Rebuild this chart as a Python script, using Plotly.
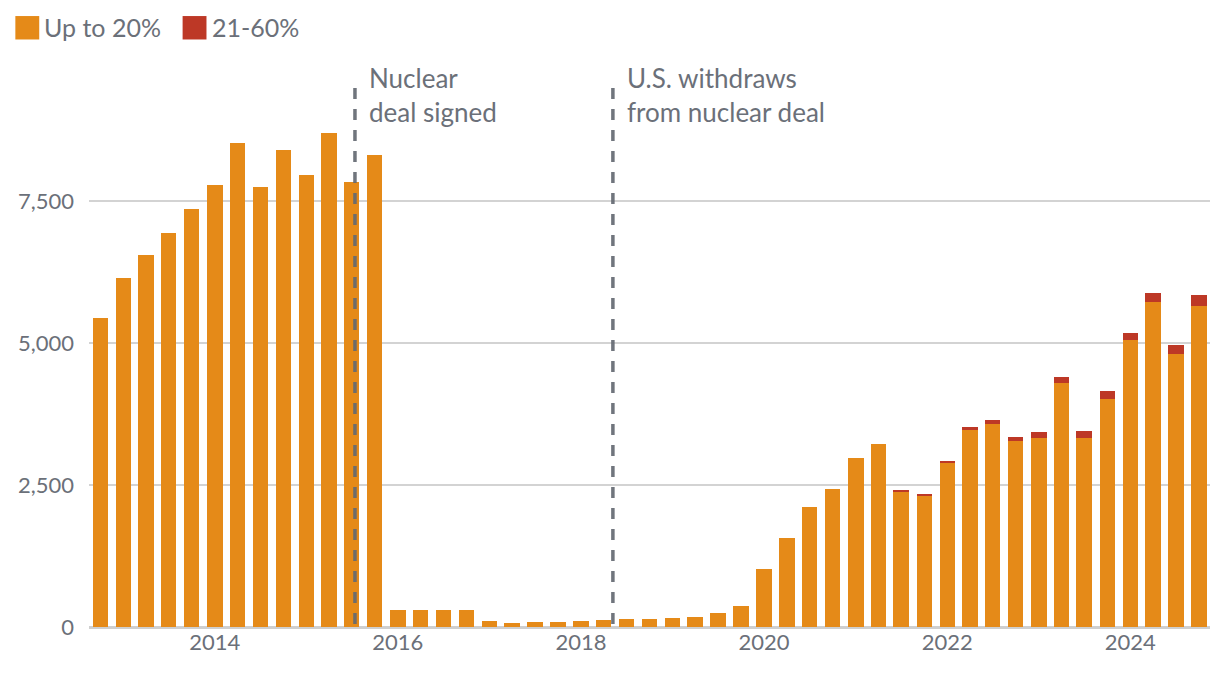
import plotly.graph_objects as go

# Quarterly IAEA estimates of Iran's enriched uranium stockpile (kg)
quarters = [
    "2012-10-01",
    "2013-01-01", "2013-04-01", "2013-07-01", "2013-10-01",
    "2014-01-01", "2014-04-01", "2014-07-01", "2014-10-01",
    "2015-01-01", "2015-04-01", "2015-07-01", "2015-10-01",
    "2016-01-01", "2016-04-01", "2016-07-01", "2016-10-01",
    "2017-01-01", "2017-04-01", "2017-07-01", "2017-10-01",
    "2018-01-01", "2018-04-01", "2018-07-01", "2018-10-01",
    "2019-01-01", "2019-04-01", "2019-07-01", "2019-10-01",
    "2020-01-01", "2020-04-01", "2020-07-01", "2020-10-01",
    "2021-01-01", "2021-04-01", "2021-07-01", "2021-10-01",
    "2022-01-01", "2022-04-01", "2022-07-01", "2022-10-01",
    "2023-01-01", "2023-04-01", "2023-07-01", "2023-10-01",
    "2024-01-01", "2024-04-01", "2024-07-01", "2024-10-01",
]
up_to_20 = [
    5443,
    6147, 6550, 6953, 7362,
    7783, 8526, 7764, 8400,
    7959, 8714, 7846, 8312,
    293, 293, 293, 293,
    100, 65, 82, 82,
    100, 117, 135, 135,
    153, 170, 241, 364,
    1015, 1561, 2107, 2441,
    2970, 3234, 2389, 2318,
    2882, 3475, 3580, 3280,
    3333, 4304, 3331, 4021,
    5065, 5737, 4817, 5649,
]
pct_21_60 = [
    0,
    0, 0, 0, 0,
    0, 0, 0, 0,
    0, 0, 0, 0,
    0, 0, 0, 0,
    0, 0, 0, 0,
    0, 0, 0, 0,
    0, 0, 0, 0,
    0, 0, 0, 0,
    0, 0, 23, 24,
    41, 55, 72, 70,
    105, 106, 124, 142,
    124, 142, 159, 194,
]
series_names = ["Up to 20%", "21-60%"]
series_colors = ["#E58A18", "#BD3826"]

event_dates = ["2015-07-14", "2018-05-08"]
event_labels = ["Nuclear<br>deal signed", "U.S. withdraws<br>from nuclear deal"]

y_ticks = [0, 2500, 5000, 7500]
x_tick_dates = ["2014-01-01", "2016-01-01", "2018-01-01", "2020-01-01", "2022-01-01", "2024-01-01"]
x_tick_text = ["2014", "2016", "2018", "2020", "2022", "2024"]

TEXT = "#6B7079"
FONT = "Lato"
BAR_WIDTH_MS = 61.5 * 86400000

fig = go.Figure()
for name, vals, col in zip(series_names, [up_to_20, pct_21_60], series_colors):
    fig.add_trace(go.Bar(
        x=quarters, y=vals, name=name, width=BAR_WIDTH_MS,
        marker=dict(color=col, line=dict(width=0)), showlegend=False,
    ))

# event lines
for d in event_dates:
    fig.add_shape(type="line", xref="x", yref="paper", x0=d, x1=d, y0=1, y1=0,
                  line=dict(color="rgba(100,105,114,0.92)", width=3.5, dash="11px,10px"),
                  layer="above")
for d, t in zip(event_dates, event_labels):
    fig.add_annotation(x=d, xref="x", y=1.052, yref="paper", text=t, showarrow=False,
                       xanchor="left", yanchor="top", align="left", xshift=12,
                       font=dict(family=FONT, size=26, color=TEXT))

# legend (drawn manually for the large square swatches)
legend_pos = [(-0.0657, -0.0444, -0.0415), (0.0835, 0.1048, 0.1075)]
for (x0, x1, xt), name, col in zip(legend_pos, series_names, series_colors):
    fig.add_shape(type="rect", xref="paper", yref="paper", x0=x0, x1=x1,
                  y0=1.0900, y1=1.1335, fillcolor=col, line=dict(width=0))
    fig.add_annotation(x=xt, xref="paper", y=1.1132, yref="paper", text=name,
                       showarrow=False, xanchor="left", yanchor="middle",
                       font=dict(family=FONT, size=25, color=TEXT))

fig.update_layout(
    width=1212, height=680,
    margin=dict(l=76, r=10, t=80, b=61),
    barmode="stack", bargap=0,
    plot_bgcolor="white", paper_bgcolor="white",
    font=dict(family=FONT, color=TEXT),
    xaxis=dict(type="date", range=["2012-08-17", "2024-11-14"],
               tickvals=x_tick_dates, ticktext=x_tick_text,
               showgrid=False, showline=False, zeroline=False, ticks="",
               tickfont=dict(family=FONT, size=22, color=TEXT)),
    yaxis=dict(range=[0, 9500], tickvals=y_ticks, tickformat=",",
               showgrid=True, gridcolor="#D3D3D3", gridwidth=2,
               zeroline=True, zerolinecolor="#CFCFCF", zerolinewidth=2.5,
               showline=False, ticks="", ticklabelstandoff=14,
               tickfont=dict(family=FONT, size=22, color=TEXT)),
)

fig.write_html("out.html")
